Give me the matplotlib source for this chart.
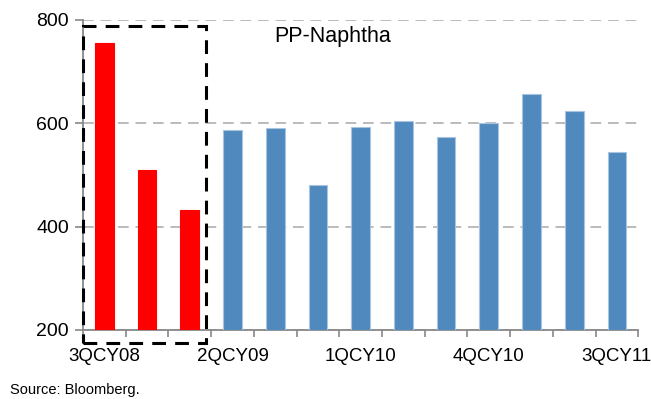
import numpy as np
import matplotlib.pyplot as plt
from matplotlib.patches import Rectangle

plt.rcParams['font.family'] = ['Liberation Sans', 'DejaVu Sans']

quarters = ["3QCY08", "4QCY08", "1QCY09", "2QCY09", "3QCY09", "4QCY09", "1QCY10",
            "2QCY10", "3QCY10", "4QCY10", "1QCY11", "2QCY11", "3QCY11"]
spread = [755, 510, 432, 587, 591, 480, 592, 604, 573, 600, 657, 623, 545]
n_highlight = 3  # crisis quarters drawn in red

x = np.arange(len(quarters))
colors = ["#FF0000"] * n_highlight + ["#4F89BD"] * (len(quarters) - n_highlight)
edges = ["#FF0000"] * n_highlight + ["#A9C4E0"] * (len(quarters) - n_highlight)

fig = plt.figure(figsize=(6.51, 3.99), dpi=100)
ax = fig.add_axes([0.1275, 0.173, 0.853, 0.777])

ax.bar(x, np.array(spread) - 200, bottom=200, width=0.44, color=colors,
       edgecolor=edges, linewidth=0.8, zorder=3)

ax.set_ylim(200, 800)
ax.set_xlim(-0.5, len(quarters) - 0.5)
ax.set_yticks([200, 400, 600, 800])
ax.yaxis.grid(True, linestyle=(0, (5.5, 3.5)), color="#BBBBBB", linewidth=1.4)
ax.set_axisbelow(True)

# tick marks sit between quarters, labels every third quarter
ax.set_xticks(np.arange(len(quarters) + 1) - 0.5)
ax.set_xticklabels([])
ax.set_xticks(x[::3], minor=True)
ax.set_xticklabels([quarters[i] for i in x[::3]], minor=True, fontsize=13.5)
ax.tick_params(axis="x", which="minor", length=0, pad=13)
ax.tick_params(axis="x", which="major", length=5, color="#888888", width=1.2)
ax.tick_params(axis="y", length=6, color="#888888", width=1.2, labelsize=14, pad=4)

for side in ["top", "right"]:
    ax.spines[side].set_visible(False)
for side in ["left", "bottom"]:
    ax.spines[side].set_color("#888888")
    ax.spines[side].set_linewidth(1.3)

# dashed box around the red quarters
box = Rectangle((-0.5, 174), 2.88, 614, fill=False, edgecolor="black",
                linestyle=(0, (4.5, 3)), linewidth=2.2, clip_on=False, zorder=4)
ax.add_patch(box)

ax.text(5.35, 768, "PP-Naphtha", fontsize=15.5, ha="center", va="center")

fig.text(0.015, 0.022, "Source: Bloomberg.", fontsize=10.5, ha="left", va="center")

fig.savefig("out.png", dpi=100)
